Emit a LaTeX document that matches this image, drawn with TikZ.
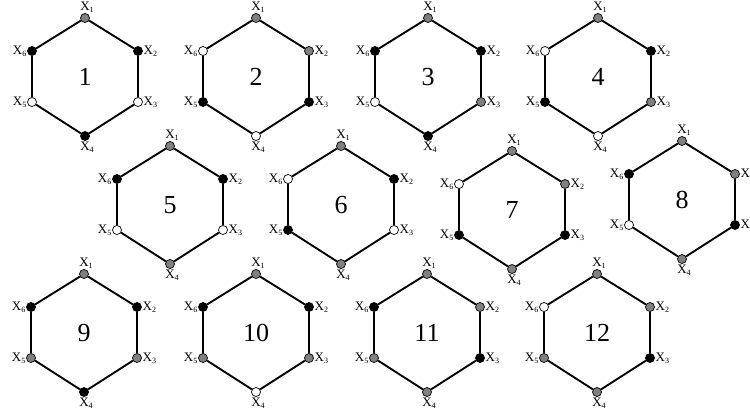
\documentclass[tikz,border=0pt]{standalone}
\usepackage{fontspec}
\setmainfont{Liberation Serif}
\newcommand{\xl}[1]{X\raisebox{-0.35ex}{\fontsize{8}{8}\selectfont #1}}
\definecolor{midgray}{RGB}{128,128,128}
\tikzset{
  vtx/.style={circle, draw=black, line width=0.7pt, minimum size=9pt, inner sep=0pt},
  gv/.style={vtx, fill=midgray},
  bv/.style={vtx, fill=black},
  wv/.style={vtx, fill=white},
  hedge/.style={line width=1.9pt},
  lbl/.style={font=\fontsize{13}{13}\selectfont, inner sep=0.6pt},
  num/.style={font=\fontsize{26}{26}\selectfont, inner sep=0pt}
}
% #1 id, #2 cx, #3 cy, #4..#9 colours of x1..x6 (g/b/w)
\newcommand{\hexa}[9]{%
  \begin{scope}[shift={(#2,#3)}]
    \node[#4v] (h#1a) at (0,-59) {};
    \node[#5v] (h#1b) at (53,-26) {};
    \node[#6v] (h#1c) at (53,25) {};
    \node[#7v] (h#1d) at (0,59) {};
    \node[#8v] (h#1e) at (-53,25) {};
    \node[#9v] (h#1f) at (-53,-26) {};
    \draw[hedge] (h#1a) -- (h#1b);
    \draw[hedge] (h#1b) -- (h#1c);
    \draw[hedge] (h#1c) -- (h#1d);
    \draw[hedge] (h#1d) -- (h#1e);
    \draw[hedge] (h#1e) -- (h#1f);
    \draw[hedge] (h#1f) -- (h#1a);
    \node[num] (h#1n) at (0,0) {#1};
    \node[lbl, anchor=south, xshift=2pt] (h#1la) at (h#1a.north) {\xl{1}};
    \node[lbl, anchor=west] (h#1lb) at (h#1b.east) {\xl{2}};
    \node[lbl, anchor=west] (h#1lc) at (h#1c.east) {\xl{3}};
    \node[lbl, anchor=north, xshift=2pt] (h#1ld) at (h#1d.south) {\xl{4}};
    \node[lbl, anchor=east] (h#1le) at (h#1e.west) {\xl{5}};
    \node[lbl, anchor=east] (h#1lf) at (h#1f.west) {\xl{6}};
  \end{scope}}
\begin{document}
\begin{tikzpicture}[x=1pt, y=-1pt]
  \clip (0,0) rectangle (750,416);
  \fill[white] (0,0) rectangle (750,416);
  \hexa{1}{85}{77}{g}{b}{w}{b}{w}{b}
  \hexa{2}{256}{77}{g}{g}{b}{w}{b}{w}
  \hexa{3}{428}{77}{g}{b}{g}{b}{w}{b}
  \hexa{4}{598}{77}{g}{b}{g}{w}{b}{w}
  \hexa{5}{170}{205}{g}{b}{w}{g}{w}{b}
  \hexa{6}{341}{205}{g}{b}{w}{g}{b}{w}
  \hexa{7}{512}{210}{g}{g}{b}{g}{b}{w}
  \hexa{8}{682}{200}{g}{g}{b}{g}{w}{b}
  \hexa{9}{84}{333}{g}{b}{g}{b}{g}{b}
  \hexa{10}{256}{333}{g}{b}{g}{w}{g}{b}
  \hexa{11}{427}{333}{g}{g}{b}{g}{g}{b}
  \hexa{12}{597}{333}{g}{g}{b}{g}{g}{w}
\end{tikzpicture}
\end{document}
